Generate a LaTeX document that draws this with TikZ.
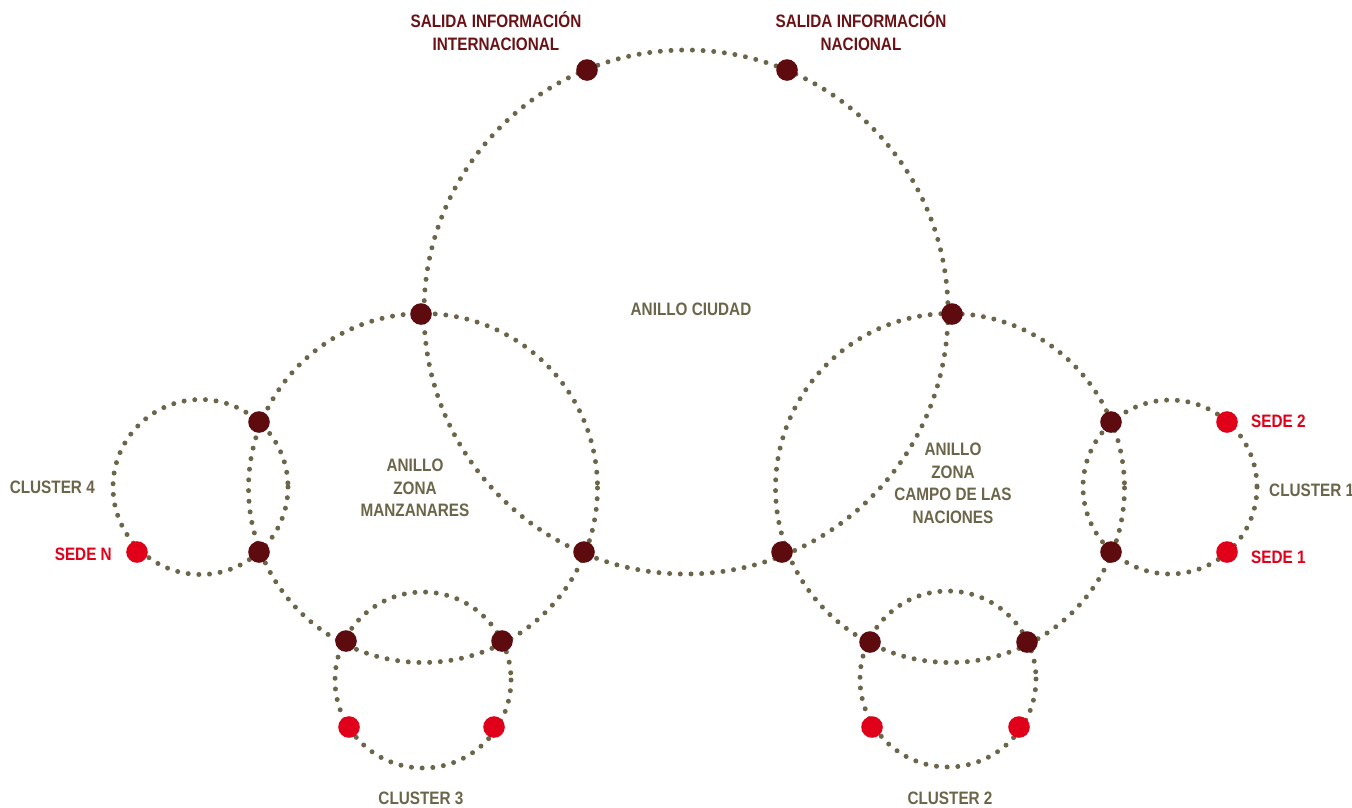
\documentclass[tikz,border=0pt]{standalone}
\usepackage{fontspec}
\setmainfont[FakeStretch=0.85]{Liberation Sans}
\usepackage{tikz}
\usetikzlibrary{positioning}

\definecolor{ringgray}{HTML}{6B6549}
\definecolor{hubred}{HTML}{5E0B10}
\definecolor{sedered}{HTML}{E1001A}
\definecolor{labelred}{HTML}{6B1216}

\begin{document}
\begin{tikzpicture}[x=1pt,y=-1pt,
    ring/.style={ringgray,line width=5pt,line cap=round,dash pattern=on 0pt off 10.7pt},
    hub/.style={fill=hubred,draw=none},
    sede/.style={fill=sedered,draw=none},
    lbl/.style={inner sep=0pt,align=center,font=\bfseries\fontsize{18}{22.5}\selectfont}]
  \useasboundingbox (0,0) rectangle (1352,807);
  % ring centres
  \coordinate (k1) at (686,312);
  \coordinate (k2) at (423,488);
  \coordinate (k3) at (950,488);
  \coordinate (k4) at (200.5,487);
  \coordinate (k5) at (1170,487);
  \coordinate (k6) at (423,680);
  \coordinate (k7) at (948,679);
  % hubs
  \coordinate (u1) at (587,70);
  \coordinate (u2) at (787,70);
  \coordinate (u3) at (421,314);
  \coordinate (u4) at (952,314);
  \coordinate (u5) at (259,422);
  \coordinate (u6) at (259,552);
  \coordinate (u7) at (584,552);
  \coordinate (u8) at (782,552);
  \coordinate (u9) at (346,641);
  \coordinate (u10) at (502,641);
  \coordinate (u11) at (870,642);
  \coordinate (u12) at (1027,642);
  \coordinate (u13) at (1111,422);
  \coordinate (u14) at (1111,552);
  % sedes
  \coordinate (s1) at (137,552);
  \coordinate (s2) at (349,727);
  \coordinate (s3) at (494,727);
  \coordinate (s4) at (872,727);
  \coordinate (s5) at (1019,727);
  \coordinate (s6) at (1227,422);
  \coordinate (s7) at (1227,552);
  % rings
  \draw[ring]
    (k1)
    circle
    [radius=262];
  \draw[ring]
    (k2)
    circle
    [radius=174.5];
  \draw[ring]
    (k3)
    circle
    [radius=174.5];
  \draw[ring]
    (k4)
    circle
    [radius=87.5];
  \draw[ring]
    (k5)
    circle
    [radius=87];
  \draw[ring]
    (k6)
    circle
    [radius=88];
  \draw[ring]
    (k7)
    circle
    [radius=88];
  % dots
  \foreach \p in {u1,u2,u3,u4,u5,u6,u7,u8,u9,u10,u11,u12,u13,u14}
    \filldraw[hub]
      (\p)
      circle
      [radius=10.8];
  \foreach \p in {s1,s2,s3,s4,s5,s6,s7}
    \filldraw[sede]
      (\p)
      circle
      [radius=10.8];
  % labels
  \node[lbl,labelred] (l1) at (496,31) {SALIDA INFORMACIÓN\\INTERNACIONAL};
  \node[lbl,labelred] (l2) at (861,31) {SALIDA INFORMACIÓN\\NACIONAL};
  \node[lbl,ringgray] (l3) at (691,309.5) {ANILLO CIUDAD};
  \node[lbl,ringgray] (l4) at (415,488) {ANILLO\\ZONA\\MANZANARES};
  \node[lbl,ringgray] (l5) at (953,483.5) {ANILLO\\ZONA\\CAMPO DE LAS\\NACIONES};
  \node[lbl,ringgray,anchor=east] (l6) at (95,487) {CLUSTER 4};
  \node[lbl,sedered,anchor=east] (l7) at (112,554) {SEDE N};
  \node[lbl,ringgray,anchor=west] (l8) at (1269,490) {CLUSTER 1};
  \node[lbl,sedered,anchor=west] (l9) at (1251,421.5) {SEDE 2};
  \node[lbl,sedered,anchor=west] (l10) at (1251,557.5) {SEDE 1};
  \node[lbl,ringgray] (l11) at (421,798.5) {CLUSTER 3};
  \node[lbl,ringgray] (l12) at (950,798.5) {CLUSTER 2};
\end{tikzpicture}
\end{document}
